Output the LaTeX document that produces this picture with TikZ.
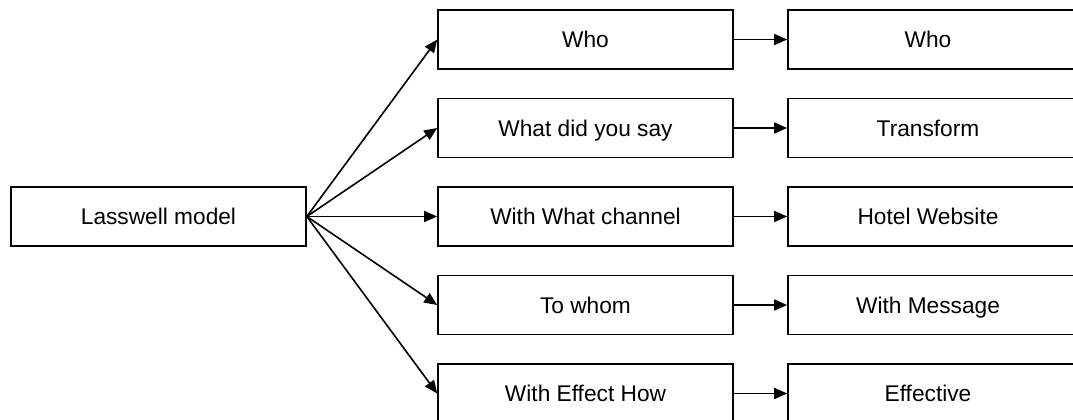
\documentclass[tikz,border=0pt]{standalone}
\usepackage{fontspec}
\setmainfont{Liberation Sans}
\usetikzlibrary{arrows.meta}
\begin{document}
\begin{tikzpicture}[x=1pt,y=-1pt,
  box/.style={draw,line width=1.6pt,minimum width=295pt,minimum height=59pt,inner sep=0pt,
    text height=16.8pt,text depth=0pt,font=\fontsize{22.7}{26}\selectfont},
  rbox/.style={box,execute at begin node=\hspace*{-15pt}},
  conn/.style={line width=1.6pt,-{Triangle[length=13pt,width=11pt]}}]
\useasboundingbox (0,0) rectangle (1073,420);
\node[box] (L) at (158.5,216.5) {Lasswell model};
\node[box] (m1) at (585.5,39.5) {Who};
\node[box] (m2) at (585.5,128) {What did you say};
\node[box] (m3) at (585.5,216.5) {With What channel};
\node[box] (m4) at (585.5,305) {To whom};
\node[box] (m5) at (585.5,393.5) {With Effect How};
\node[rbox] (r1) at (935.5,39.5) {Who};
\node[rbox] (r2) at (935.5,128) {Transform};
\node[rbox] (r3) at (935.5,216.5) {Hotel Website};
\node[rbox] (r4) at (935.5,305) {With Message};
\node[rbox] (r5) at (935.5,393.5) {Effective};
\foreach \i in {1,...,5}{
  \draw[conn] (L.east) -- (m\i.west);
  \draw[conn] (m\i.east) -- (r\i.west);
}
\end{tikzpicture}
\end{document}
